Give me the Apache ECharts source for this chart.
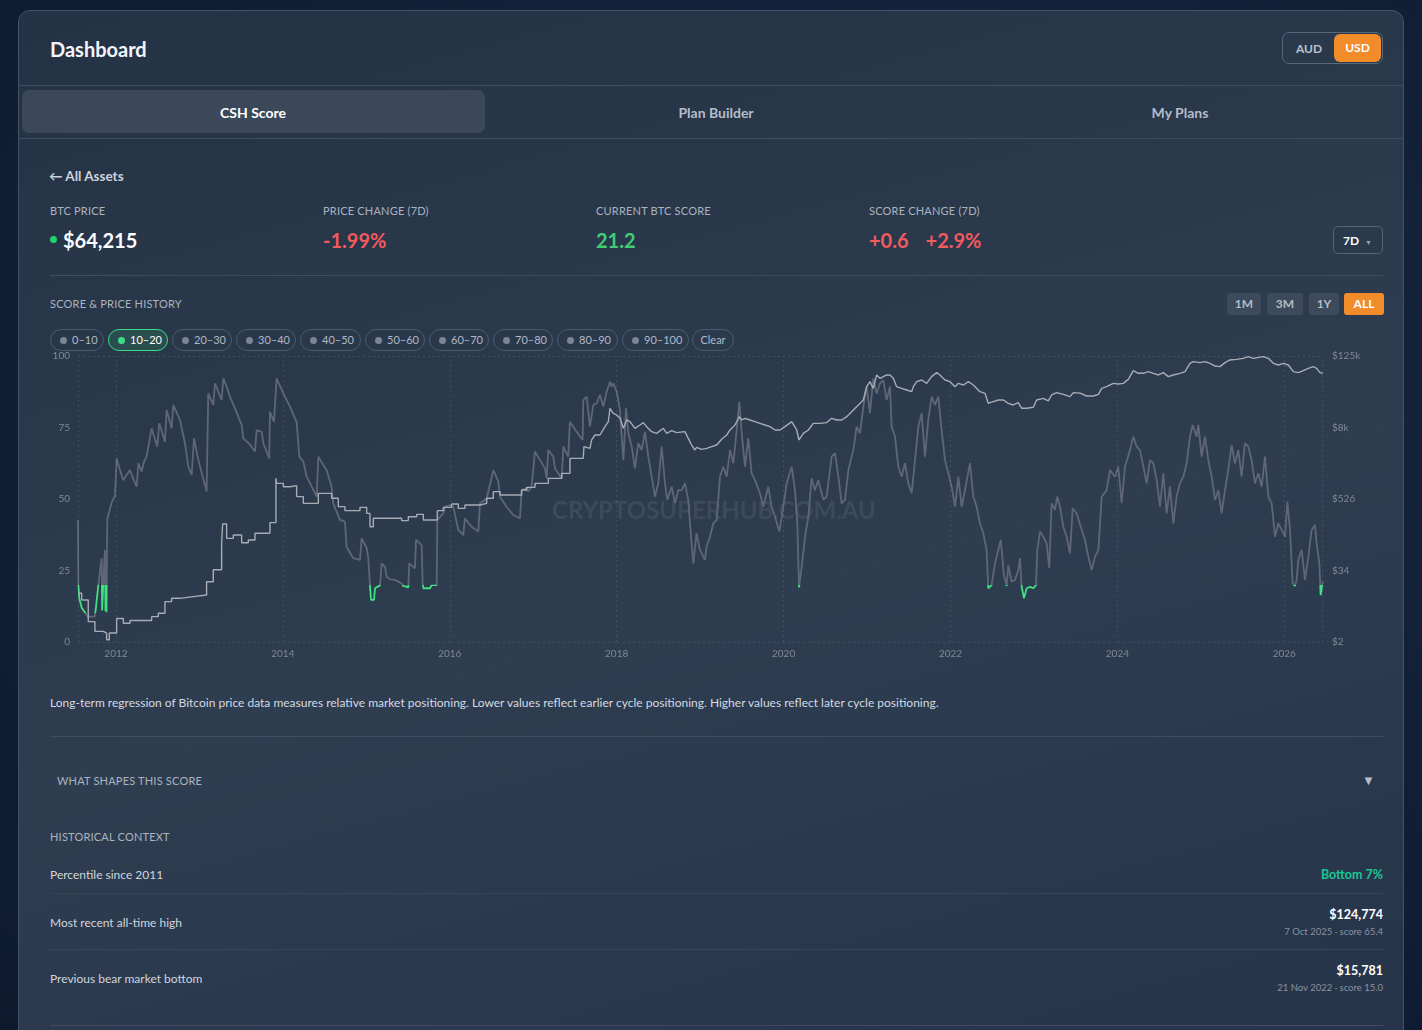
<!DOCTYPE html>
<html>
<head>
<meta charset="utf-8">
<title>CSH Score</title>
<script src="https://cdn.jsdelivr.net/npm/echarts@6/dist/echarts.min.js"></script>
<style>
  body { margin:0; width:1422px; height:1030px; overflow:hidden; position:relative;
         background: radial-gradient(ellipse at 60% 40%, #1b2c45 0%, #112037 60%, #0d1a2e 100%);
         font-family: Lato, "Open Sans", "Noto Sans", sans-serif; color:#e6ebf1; }
  .abs { position:absolute; white-space:nowrap; }
  .card { position:absolute; left:18px; top:10px; width:1386px; height:1050px; box-sizing:border-box;
          border:1px solid #435269; border-radius:12px;
          background: linear-gradient(165deg, #243246 0%, #2c3a4e 40%, #2f3d51 55%, #26344a 100%); }
  .hline { position:absolute; height:1px; background:#3e4d61; }
  .lbl { font-size:11px; color:#aab3bf; letter-spacing:0.2px; transform:translateY(-50%); }
  .val { font-size:20px; font-weight:700; transform:translateY(-50%); }
  .tab { font-size:14px; font-weight:700; color:#b4bcc7; transform:translate(-50%,-50%); }
  .btn { top:293px; height:22px; line-height:22px; font-size:12px; font-weight:700; color:#b3bcc7;
         background:#3c4a5b; border-radius:3px; text-align:center; }
  .chip { top:329px; height:20px; line-height:20px; border:1px solid #4c5a6d; border-radius:11px;
          font-size:11px; color:#b0b9c4; box-sizing:content-box; }
  .chip i { display:inline-block; width:7px; height:7px; border-radius:50%; background:#7c8594;
            margin:0 5px 0 9px; vertical-align:0px; }
  .chip.on { border-color:#3ddc84; background:rgba(45,160,95,0.22); color:#ffffff; }
  .chip.on i { background:#3ddc84; }
  .row { font-size:12px; color:#d0d6de; transform:translateY(-50%); }
  .rv { font-size:12.5px; font-weight:700; color:#ffffff; transform:translateY(-50%); text-align:right; }
  .rs { font-size:9.5px; color:#8a939f; transform:translateY(-50%); text-align:right; }
</style>
</head>
<body>
<div class="card"></div>

<div class="abs" style="left:50px;top:49px;font-size:20px;font-weight:700;color:#f3f5f8;transform:translateY(-50%)">Dashboard</div>
<div class="abs" style="left:1282px;top:32px;width:101px;height:32px;box-sizing:border-box;border:1px solid #56667b;border-radius:7px;background:#2b394c"></div>
<div class="abs" style="left:1296px;top:48px;font-size:12px;font-weight:700;color:#b9c1cc;transform:translateY(-50%)">AUD</div>
<div class="abs" style="left:1334px;top:34px;width:47px;height:28px;line-height:28px;border-radius:6px;background:#f28b2a;text-align:center;font-size:12px;font-weight:700;color:#fff">USD</div>

<div class="hline" style="left:18px;top:85px;width:1386px"></div>
<div class="abs" style="left:22px;top:90px;width:463px;height:43px;border-radius:7px;background:#3a4859"></div>
<div class="abs tab" style="left:253px;top:112px;color:#ffffff">CSH Score</div>
<div class="abs tab" style="left:716px;top:112px">Plan Builder</div>
<div class="abs tab" style="left:1180px;top:112px">My Plans</div>
<div class="hline" style="left:18px;top:138px;width:1386px"></div>

<div class="abs" style="left:49px;top:176px;font-size:13.5px;font-weight:700;color:#cdd4dd;transform:translateY(-50%)">&larr; All Assets</div>

<div class="abs lbl" style="left:50px;top:210px">BTC PRICE</div>
<div class="abs lbl" style="left:323px;top:210px">PRICE CHANGE (7D)</div>
<div class="abs lbl" style="left:596px;top:210px">CURRENT BTC SCORE</div>
<div class="abs lbl" style="left:869px;top:210px">SCORE CHANGE (7D)</div>
<div class="abs" style="left:50px;top:236px;width:7px;height:7px;border-radius:50%;background:#22d36b"></div>
<div class="abs val" style="left:63px;top:240px;color:#ffffff">$64,215</div>
<div class="abs val" style="left:323px;top:240px;color:#f25a5c">-1.99%</div>
<div class="abs val" style="left:596px;top:240px;color:#3ecf72">21.2</div>
<div class="abs val" style="left:869px;top:240px;color:#f25a5c">+0.6<span style="margin-left:17px">+2.9%</span></div>
<div class="abs" style="left:1333px;top:226px;width:50px;height:28px;box-sizing:border-box;border:1px solid #55657a;border-radius:5px;background:#2b394c"></div>
<div class="abs" style="left:1343px;top:240px;font-size:12px;font-weight:700;color:#fff;transform:translateY(-50%)">7D <span style="font-size:7px;color:#9aa3ae;margin-left:3px">&#9660;</span></div>
<div class="hline" style="left:50px;top:275px;width:1333px"></div>

<div class="abs lbl" style="left:50px;top:303px">SCORE &amp; PRICE HISTORY</div>
<div class="abs btn" style="left:1227px;width:34px">1M</div>
<div class="abs btn" style="left:1267px;width:36px">3M</div>
<div class="abs btn" style="left:1309px;width:30px">1Y</div>
<div class="abs btn" style="left:1344px;width:40px;background:#f28b2a;color:#fff">ALL</div>

<div class="abs chip" style="left:50px;width:52px"><i></i>0&ndash;10</div>
<div class="abs chip on" style="left:108px;width:58px"><i></i>10&ndash;20</div>
<div class="abs chip" style="left:172px;width:58px"><i></i>20&ndash;30</div>
<div class="abs chip" style="left:236px;width:58px"><i></i>30&ndash;40</div>
<div class="abs chip" style="left:300px;width:59px"><i></i>40&ndash;50</div>
<div class="abs chip" style="left:365px;width:58px"><i></i>50&ndash;60</div>
<div class="abs chip" style="left:429px;width:58px"><i></i>60&ndash;70</div>
<div class="abs chip" style="left:493px;width:58px"><i></i>70&ndash;80</div>
<div class="abs chip" style="left:557px;width:59px"><i></i>80&ndash;90</div>
<div class="abs chip" style="left:622px;width:65px"><i></i>90&ndash;100</div>
<div class="abs chip" style="left:692px;width:40px;text-align:center">Clear</div>

<div id="chart" class="abs" style="left:40px;top:350px;width:1360px;height:318px"></div>

<div class="abs" style="left:50px;top:702px;font-size:12px;color:#d4dae2;transform:translateY(-50%)">Long-term regression of Bitcoin price data measures relative market positioning. Lower values reflect earlier cycle positioning. Higher values reflect later cycle positioning.</div>
<div class="hline" style="left:50px;top:736px;width:1333px"></div>

<div class="abs lbl" style="left:57px;top:780px">WHAT SHAPES THIS SCORE</div>
<div class="abs" style="left:1362px;top:780px;font-size:13px;color:#b6bec9;transform:translateY(-50%)">&#9660;</div>
<div class="abs lbl" style="left:50px;top:836px">HISTORICAL CONTEXT</div>

<div class="abs row" style="left:50px;top:874px">Percentile since 2011</div>
<div class="abs rv" style="right:39px;top:874px;color:#19c794">Bottom 7%</div>
<div class="hline" style="left:50px;top:893px;width:1333px;background:#364558"></div>
<div class="abs row" style="left:50px;top:922px">Most recent all-time high</div>
<div class="abs rv" style="right:39px;top:914px">$124,774</div>
<div class="abs rs" style="right:39px;top:931px">7 Oct 2025 &middot; score 65.4</div>
<div class="hline" style="left:50px;top:949px;width:1333px;background:#364558"></div>
<div class="abs row" style="left:50px;top:978px">Previous bear market bottom</div>
<div class="abs rv" style="right:39px;top:970px">$15,781</div>
<div class="abs rs" style="right:39px;top:987px">21 Nov 2022 &middot; score 15.0</div>
<div class="hline" style="left:50px;top:1025px;width:1333px"></div>

<script>
// time is in decimal years
var yearTicks = [2012, 2014, 2016, 2018, 2020, 2022, 2024, 2026];
var priceTicks = ['$2', '$34', '$526', '$8k', '$125k'];

// CSH score, 0-100
var scoreData = [
  [2011.545,42.7],[2011.549,20.5],[2011.560,15.3],[2011.589,12.0],[2011.629,10.3],[2011.660,8.9],[2011.745,8.9],
  [2011.760,12.0],[2011.788,19.8],[2011.828,29.3],[2011.834,11.0],[2011.855,25.0],[2011.868,32.2],[2011.874,10.8],
  [2011.880,20.0],[2011.886,10.4],[2011.896,43.0],[2011.950,49.0],[2011.988,51.0],[2012.008,64.2],[2012.050,60.0],
  [2012.088,56.6],[2012.128,58.5],[2012.168,60.1],[2012.208,57.0],[2012.248,54.3],[2012.268,62.5],[2012.308,59.6],
  [2012.336,63.1],[2012.367,64.8],[2012.427,74.7],[2012.495,68.3],[2012.519,76.5],[2012.587,70.0],[2012.607,81.1],
  [2012.667,74.7],[2012.687,82.9],[2012.767,77.6],[2012.827,69.5],[2012.867,61.3],[2012.907,58.4],[2012.935,71.2],
  [2012.987,63.6],[2013.086,52.6],[2013.106,86.9],[2013.166,82.9],[2013.186,90.4],[2013.266,84.6],[2013.286,92.2],
  [2013.326,89.3],[2013.366,85.8],[2013.426,81.7],[2013.506,75.9],[2013.526,71.2],[2013.606,69.0],[2013.666,66.6],
  [2013.686,74.1],[2013.746,73.5],[2013.766,69.5],[2013.837,64.2],[2013.845,80.5],[2013.893,77.0],[2013.925,92.2],
  [2014.005,86.9],[2014.085,82.3],[2014.165,76.9],[2014.197,64.8],[2014.245,63.1],[2014.285,57.8],[2014.405,50.8],
  [2014.425,64.8],[2014.485,61.9],[2014.524,60.1],[2014.584,54.3],[2014.604,48.5],[2014.684,42.7],[2014.744,42.1],
  [2014.764,33.3],[2014.844,29.3],[2014.924,28.7],[2014.944,36.2],[2015.004,32.8],[2015.024,29.3],[2015.044,19.8],
  [2015.056,14.7],[2015.092,14.7],[2015.104,18.8],[2015.164,19.8],[2015.184,27.5],[2015.224,26.3],[2015.244,22.8],
  [2015.284,21.9],[2015.343,21.7],[2015.383,21.1],[2015.423,20.5],[2015.443,19.6],[2015.503,19.1],[2015.515,27.5],
  [2015.583,25.8],[2015.595,35.7],[2015.663,33.9],[2015.675,20.5],[2015.683,18.8],[2015.763,18.8],[2015.783,19.9],
  [2015.843,19.9],[2015.851,42.7],[2015.923,45.0],[2015.943,47.3],[2016.002,47.9],[2016.042,47.3],[2016.102,39.2],
  [2016.162,37.4],[2016.182,43.2],[2016.262,40.3],[2016.342,38.6],[2016.362,48.5],[2016.442,50.2],[2016.522,60.1],
  [2016.582,56.1],[2016.602,50.8],[2016.681,47.3],[2016.761,44.4],[2016.841,43.2],[2016.861,53.1],[2016.921,53.7],
  [2016.941,52.6],[2016.981,54.3],[2017.021,66.6],[2017.081,63.6],[2017.141,60.7],[2017.161,57.2],[2017.181,67.1],
  [2017.241,64.8],[2017.261,60.7],[2017.341,57.2],[2017.361,68.3],[2017.420,64.8],[2017.440,77.0],[2017.520,73.5],
  [2017.592,70.6],[2017.600,84.6],[2017.640,85.8],[2017.680,75.3],[2017.720,82.9],[2017.760,83.4],[2017.800,86.4],
  [2017.840,82.3],[2017.880,87.5],[2017.920,91.0],[2017.940,89.3],[2017.960,90.4],[2018.000,87.5],[2018.040,81.1],
  [2018.060,71.8],[2018.080,63.6],[2018.112,81.7],[2018.140,73.0],[2018.180,68.3],[2018.219,60.7],[2018.259,69.5],
  [2018.299,67.1],[2018.339,73.5],[2018.379,64.8],[2018.419,57.8],[2018.459,50.8],[2018.499,55.5],[2018.539,68.3],
  [2018.579,55.5],[2018.607,49.7],[2018.659,54.3],[2018.699,48.5],[2018.739,53.1],[2018.779,53.1],[2018.818,55.5],
  [2018.858,49.7],[2018.878,41.5],[2018.918,27.5],[2018.958,38.0],[2018.998,32.2],[2019.058,28.7],[2019.078,33.3],
  [2019.118,36.8],[2019.158,41.5],[2019.198,42.7],[2019.238,57.8],[2019.278,61.3],[2019.318,57.8],[2019.358,67.1],
  [2019.398,62.5],[2019.438,74.1],[2019.470,84.0],[2019.498,73.0],[2019.538,61.3],[2019.577,71.2],[2019.617,59.0],
  [2019.657,56.6],[2019.717,52.0],[2019.757,47.3],[2019.817,54.3],[2019.857,47.3],[2019.897,43.8],[2019.949,38.6],
  [2019.997,47.3],[2020.037,55.5],[2020.097,61.3],[2020.137,53.1],[2020.165,41.5],[2020.185,19.1],[2020.217,26.3],
  [2020.257,36.8],[2020.297,43.8],[2020.336,57.2],[2020.376,53.1],[2020.416,56.6],[2020.476,49.7],[2020.516,50.8],
  [2020.576,64.8],[2020.616,66.0],[2020.656,57.8],[2020.696,48.5],[2020.736,49.7],[2020.776,60.1],[2020.836,67.1],
  [2020.876,75.3],[2020.916,73.0],[2020.956,82.3],[2020.995,89.3],[2021.035,80.0],[2021.075,92.2],[2021.115,86.9],
  [2021.155,90.4],[2021.195,91.6],[2021.235,84.6],[2021.275,89.3],[2021.295,75.3],[2021.335,71.8],[2021.375,61.3],
  [2021.415,57.8],[2021.455,62.5],[2021.495,55.5],[2021.535,52.0],[2021.575,63.6],[2021.615,75.3],[2021.655,80.0],
  [2021.694,64.8],[2021.734,77.6],[2021.774,85.8],[2021.814,82.9],[2021.854,85.8],[2021.894,74.1],[2021.934,63.6],
  [2021.974,59.0],[2022.014,54.3],[2022.054,47.3],[2022.094,57.8],[2022.134,47.3],[2022.174,53.1],[2022.234,62.5],
  [2022.274,50.8],[2022.314,47.3],[2022.353,41.5],[2022.393,38.0],[2022.433,32.2],[2022.453,18.8],[2022.493,19.9],
  [2022.533,27.5],[2022.573,32.2],[2022.603,35.7],[2022.640,23.5],[2022.673,19.6],[2022.693,26.9],[2022.733,21.1],
  [2022.773,21.7],[2022.813,25.2],[2022.833,29.3],[2022.853,19.3],[2022.881,15.3],[2022.913,18.8],[2022.953,19.3],
  [2022.993,18.8],[2023.025,19.9],[2023.041,32.2],[2023.073,38.6],[2023.112,36.8],[2023.152,34.5],[2023.184,25.8],
  [2023.212,48.5],[2023.252,46.2],[2023.280,50.8],[2023.312,47.3],[2023.352,40.3],[2023.392,36.8],[2023.432,31.0],
  [2023.464,46.7],[2023.512,45.0],[2023.572,39.2],[2023.612,35.7],[2023.652,29.8],[2023.692,25.2],[2023.732,29.8],
  [2023.772,32.2],[2023.792,41.5],[2023.812,50.8],[2023.871,53.1],[2023.911,60.1],[2023.971,57.8],[2024.011,61.3],
  [2024.051,48.5],[2024.091,61.3],[2024.151,67.1],[2024.191,71.8],[2024.231,68.3],[2024.271,67.1],[2024.311,61.3],
  [2024.351,55.5],[2024.391,63.6],[2024.431,62.5],[2024.471,56.6],[2024.510,47.3],[2024.550,59.0],[2024.590,45.0],
  [2024.630,54.3],[2024.670,41.5],[2024.710,50.8],[2024.750,55.5],[2024.790,57.8],[2024.830,62.5],[2024.870,71.8],
  [2024.902,75.9],[2024.950,71.8],[2024.970,75.9],[2025.010,64.8],[2025.050,71.8],[2025.090,63.6],[2025.130,57.8],
  [2025.170,49.7],[2025.210,53.1],[2025.249,45.0],[2025.289,53.1],[2025.329,60.1],[2025.369,68.9],[2025.409,62.5],
  [2025.449,67.1],[2025.489,57.8],[2025.529,69.5],[2025.569,68.3],[2025.609,63.6],[2025.649,55.5],[2025.689,59.0],
  [2025.729,54.3],[2025.769,64.8],[2025.809,50.8],[2025.849,48.5],[2025.889,36.8],[2025.929,41.5],[2025.969,39.2],
  [2026.009,36.8],[2026.037,49.1],[2026.069,39.2],[2026.100,20.5],[2026.128,19.6],[2026.148,21.7],[2026.168,28.7],
  [2026.208,32.2],[2026.248,21.7],[2026.288,29.8],[2026.328,39.2],[2026.368,40.9],[2026.388,34.5],[2026.420,27.5],
  [2026.436,16.4],[2026.450,19.0],[2026.462,21.2]
];

// BTC price in USD, monthly steps up to mid 2017
var priceMonthly = [
  [2011.545,14.2],[2011.589,11.0],[2011.668,4.8],[2011.748,3.3],[2011.848,3.1],[2011.888,2.4],[2011.920,3.1],
  [2012.008,5.4],[2012.088,4.5],[2012.168,5.0],[2012.427,5.8],[2012.507,6.6],[2012.587,10.3],[2012.667,11.7],
  [2012.767,12.5],[2012.927,13.3],[2013.086,22],[2013.166,35],[2013.266,96],[2013.278,201],[2013.326,116],
  [2013.406,132],[2013.506,98],[2013.586,109],[2013.666,141],[2013.845,212],[2013.917,1153],[2013.925,952],
  [2014.005,838],[2014.085,872],[2014.165,573],[2014.245,443],[2014.425,649],[2014.584,537],[2014.664,390],
  [2014.744,335],[2014.924,380],[2015.004,302],[2015.044,181],[2015.084,250],[2015.423,229],[2015.503,266],
  [2015.603,291],[2015.683,234],[2015.851,335],[2015.923,380],[2016.022,432],[2016.102,365],[2016.182,416],
  [2016.362,443],[2016.442,537],[2016.522,693],[2016.602,610],[2016.861,739],[2016.921,817],[2017.021,952],
  [2017.181,1153],[2017.341,1397],[2017.440,2480],[2017.600,2642]
];

// BTC price in USD, from mid 2017 on
var priceDaily = [
  [2017.600,2642],[2017.608,3877],[2017.680,3635],[2017.700,5006],[2017.740,6056],[2017.800,6056],[2017.860,8336],
  [2017.900,10098],[2017.920,16808],[2017.960,13882],[2018.000,13024],[2018.040,11462],[2018.080,7819],[2018.120,10747],
  [2018.160,10098],[2018.219,7819],[2018.279,8879],[2018.319,9713],[2018.359,8336],[2018.419,6882],[2018.479,6453],
  [2018.559,7819],[2018.599,6453],[2018.659,7146],[2018.719,6622],[2018.818,6882],[2018.858,5333],[2018.898,4127],
  [2018.938,3410],[2018.958,3776],[2019.018,3498],[2019.078,3634],[2019.138,3874],[2019.198,4131],[2019.258,5133],
  [2019.318,6054],[2019.358,7335],[2019.418,8879],[2019.470,12217],[2019.498,10751],[2019.538,11462],[2019.597,10751],
  [2019.657,10085],[2019.717,9462],[2019.777,8879],[2019.837,8327],[2019.897,7335],[2019.957,7335],[2020.017,8327],
  [2020.097,10085],[2020.157,7335],[2020.185,5003],[2020.237,6455],[2020.297,7335],[2020.356,9462],[2020.436,9462],
  [2020.516,9704],[2020.576,11462],[2020.636,10751],[2020.696,10751],[2020.756,12217],[2020.836,15774],[2020.896,19096],
  [2020.956,23115],[2020.995,38500],[2021.035,46618],[2021.075,36113],[2021.115,60144],[2021.155,52910],[2021.195,56408],
  [2021.235,60144],[2021.275,60144],[2021.315,52910],[2021.355,38500],[2021.415,36113],[2021.475,33880],[2021.535,31777],
  [2021.555,38500],[2021.595,46618],[2021.655,49676],[2021.714,43714],[2021.774,56408],[2021.834,65736],[2021.874,60144],
  [2021.934,49676],[2021.994,46618],[2022.054,38500],[2022.094,43714],[2022.154,41008],[2022.214,46618],[2022.274,41008],
  [2022.353,31777],[2022.413,29832],[2022.453,20346],[2022.513,21688],[2022.573,23115],[2022.633,23115],[2022.693,20346],
  [2022.753,19096],[2022.813,20862],[2022.853,16808],[2022.913,16808],[2022.993,17461],[2023.033,23115],[2023.112,24620],
  [2023.172,22400],[2023.212,27984],[2023.272,30591],[2023.352,28703],[2023.432,26242],[2023.472,30591],[2023.552,30100],
  [2023.632,26932],[2023.712,26932],[2023.772,28703],[2023.812,36113],[2023.871,38500],[2023.951,43714],[2024.011,42636],
  [2024.071,43714],[2024.131,50941],[2024.191,70994],[2024.251,64108],[2024.311,64108],[2024.371,68266],[2024.431,64108],
  [2024.491,60144],[2024.550,65736],[2024.610,56408],[2024.670,60144],[2024.750,64108],[2024.810,68266],[2024.870,93940],
  [2024.910,100144],[2024.990,96404],[2025.050,100144],[2025.110,93940],[2025.170,84810],[2025.230,82720],[2025.289,96404],
  [2025.349,106766],[2025.429,109472],[2025.509,113806],[2025.569,121220],[2025.629,113806],[2025.689,118228],
  [2025.749,121220],[2025.809,113806],[2025.869,93940],[2025.929,88176],[2025.989,93940],[2026.049,88176],[2026.109,68266],
  [2026.168,65736],[2026.228,70994],[2026.288,77594],[2026.348,82720],[2026.388,77594],[2026.428,65736],[2026.462,64215]
];

// price axis: log scale from $2.2, each label step x15.42
var PMIN = 2.2, PSTEP = 15.42;
function logPos(p) { return Math.log(p / PMIN) / Math.log(PSTEP); }
function toPos(list) { return list.map(function (d) { return [d[0], logPos(d[1])]; }); }

var chart = echarts.init(document.getElementById('chart'), null, { renderer: 'canvas' });
var axisText = { color: '#7f8997', fontSize: 10, fontFamily: 'Lato, sans-serif' };
var gridLines = yearTicks.map(function (y) { return { xAxis: y }; })
  .concat([{ xAxis: 2011.545 }, { xAxis: 2026.464 }, { yAxis: 0 }, { yAxis: 4 }]);

chart.setOption({
  animation: false,
  backgroundColor: 'transparent',
  grid: { left: 38, right: 77, top: 6, bottom: 26 },
  graphic: [{
    type: 'text', left: 512, top: 149, z: 0, silent: true,
    style: { text: 'CRYPTOSUPERHUB.COM.AU', fill: 'rgba(200,210,225,0.1)',
             font: 'bold 24px Lato, "Open Sans", sans-serif' }
  }],
  xAxis: {
    type: 'value', min: 2011.545, max: 2026.464,
    axisLine: { show: false }, axisTick: { show: false }, splitLine: { show: false },
    axisLabel: Object.assign({ customValues: yearTicks, margin: 7,
      formatter: function (v) { return String(Math.round(v)); } }, axisText)
  },
  yAxis: [{
    type: 'value', min: 0, max: 100, interval: 25, position: 'left',
    axisLine: { show: false }, axisTick: { show: false }, splitLine: { show: false },
    axisLabel: Object.assign({ margin: 8 }, axisText)
  }, {
    type: 'value', min: 0, max: 4, interval: 1, position: 'right',
    axisLine: { show: false }, axisTick: { show: false }, splitLine: { show: false },
    axisLabel: Object.assign({ margin: 9, formatter: function (v) { return priceTicks[Math.round(v)]; } }, axisText)
  }],
  visualMap: {
    show: false, type: 'piecewise', seriesIndex: 0, dimension: 1,
    pieces: [{ gte: 10, lte: 20, color: '#3ee07f' }],
    outOfRange: { color: '#5f6776' }
  },
  series: [{
    name: 'Score', type: 'line', yAxisIndex: 0, data: scoreData,
    showSymbol: false, z: 3, lineStyle: { width: 1.8 }
  }, {
    name: 'Price', type: 'line', yAxisIndex: 1, data: toPos(priceMonthly), step: 'end',
    showSymbol: false, z: 4, itemStyle: { color: '#a7acb5' }, lineStyle: { width: 1.4, color: '#a7acb5' }
  }, {
    name: 'Price ', type: 'line', yAxisIndex: 1, data: toPos(priceDaily),
    showSymbol: false, z: 4, itemStyle: { color: '#a7acb5' }, lineStyle: { width: 1.4, color: '#a7acb5' },
    markLine: {
      silent: true, symbol: ['none', 'none'], label: { show: false },
      lineStyle: { color: 'rgba(170,185,205,0.16)', type: [2, 3], width: 1 },
      data: gridLines
    }
  }]
});
</script>
</body>
</html>
